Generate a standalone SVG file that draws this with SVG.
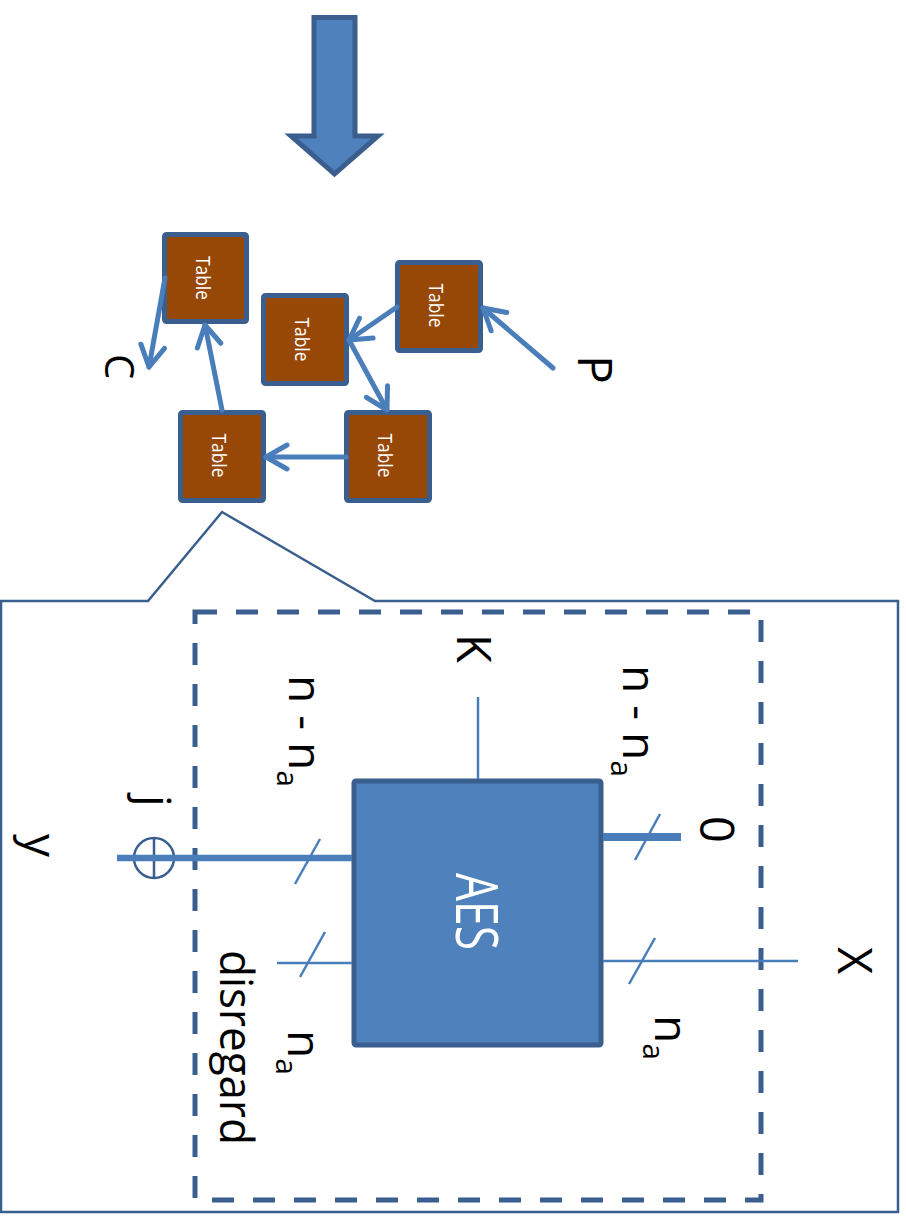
<svg xmlns="http://www.w3.org/2000/svg" width="906" height="1222" viewBox="0 0 906 1222">
<style>
.lbl{font-family:"Open Sans","Liberation Sans",sans-serif;fill:#000}
.tbl rect{fill:#974706;stroke:#3A5F8F;stroke-width:5}
.tbl text{font-family:"Open Sans","Liberation Sans",sans-serif;font-size:20px;fill:#fff;text-anchor:middle}
.arr{stroke:#4A7EBB;stroke-width:5;fill:none;stroke-linecap:round;marker-end:url(#open)}
.thin{stroke:#4A7EBB;stroke-width:2.5;fill:none}
</style>
<defs>
<marker id="open" markerUnits="userSpaceOnUse" markerWidth="40" markerHeight="40" viewBox="-25 -20 30 40" refX="0" refY="0" orient="auto">
<path d="M-21,-12 L0,0 L-21,12" fill="none" stroke="#4A7EBB" stroke-width="5" stroke-linecap="round" stroke-linejoin="round"/>
</marker>
</defs>
<rect width="906" height="1222" fill="#fff"/>

<g id="big-arrow">
<polygon points="314,17.5 355,17.5 355,136 378,136 334.5,174 291,136 314,136" fill="#4F81BD" stroke="#3A5F8F" stroke-width="5"/>
</g>

<g id="table-a" class="tbl"><rect x="164.5" y="234.5" width="82" height="87" rx="2"/><text transform="translate(196,278) rotate(90)" textLength="44" lengthAdjust="spacingAndGlyphs">Table</text></g>
<g id="table-b" class="tbl"><rect x="263.5" y="295.5" width="83" height="88" rx="2"/><text transform="translate(295,339.5) rotate(90)" textLength="44" lengthAdjust="spacingAndGlyphs">Table</text></g>
<g id="table-c" class="tbl"><rect x="397.5" y="262.5" width="83" height="88" rx="2"/><text transform="translate(429,305.5) rotate(90)" textLength="44" lengthAdjust="spacingAndGlyphs">Table</text></g>
<g id="table-d" class="tbl"><rect x="180.5" y="412.5" width="83" height="88" rx="2"/><text transform="translate(212,455.5) rotate(90)" textLength="44" lengthAdjust="spacingAndGlyphs">Table</text></g>
<g id="table-e" class="tbl"><rect x="346.5" y="412.5" width="83" height="88" rx="2"/><text transform="translate(378,455.5) rotate(90)" textLength="44" lengthAdjust="spacingAndGlyphs">Table</text></g>

<g id="callout">
<path d="M1,601 L148,601 L222,512 L375,601 L898,601 L898,1212 L1,1212 Z" fill="none" stroke="#3A5F8F" stroke-width="2.5" stroke-linejoin="miter"/>
</g>
<g id="dashed-box">
<path d="M195,612 L761,612 L761,1200 L195,1200 Z" fill="none" stroke="#3A5F8F" stroke-width="5" stroke-dasharray="22 19"/>
</g>

<g id="aes">
<rect x="354" y="781" width="247" height="264" rx="2" fill="#4F81BD" stroke="#3A5F8F" stroke-width="5"/>
<text transform="translate(456,873) rotate(90)" font-family="Open Sans, Liberation Sans, sans-serif" font-size="58" fill="#fff" textLength="77" lengthAdjust="spacingAndGlyphs">AES</text>
</g>

<g id="xor">
<circle cx="154" cy="858" r="20" fill="none" stroke="#3A5F8F" stroke-width="2.5"/>
<line x1="154" y1="838" x2="154" y2="878" stroke="#3A5F8F" stroke-width="2.5"/>
</g>

<g id="connectors">
<line class="arr" x1="553" y1="368" x2="483" y2="308"/>
<line class="arr" x1="397" y1="307" x2="349" y2="340"/>
<line class="arr" x1="349" y1="340" x2="387" y2="410"/>
<line class="arr" x1="346" y1="457" x2="266" y2="457"/>
<line class="arr" x1="222" y1="410" x2="205" y2="325"/>
<line class="arr" x1="165" y1="278" x2="149" y2="367"/>

<line class="thin" x1="478" y1="697" x2="478" y2="779"/>
<line x1="117" y1="858" x2="352" y2="858" stroke="#4A7EBB" stroke-width="6.5"/>
<line class="thin" x1="295" y1="884" x2="320" y2="839"/>
<line x1="603" y1="837" x2="681" y2="837" stroke="#4A7EBB" stroke-width="8"/>
<line class="thin" x1="635" y1="860" x2="660" y2="814"/>
<line class="thin" x1="603" y1="961" x2="798" y2="961"/>
<line class="thin" x1="629" y1="984" x2="655" y2="938"/>
<line class="thin" x1="277" y1="963" x2="352" y2="963"/>
<line class="thin" x1="300" y1="977" x2="325" y2="932"/>
</g>

<g id="labels" class="lbl">
<text transform="translate(578,355) rotate(90)" font-size="48">P</text>
<text transform="translate(105,354) rotate(90)" font-size="40">C</text>
<text transform="translate(457,634) rotate(90)" font-size="47">K</text>
<text transform="translate(289,675) rotate(90)" font-size="46">n - n<tspan font-size="30" dy="12">a</tspan></text>
<text transform="translate(623,665) rotate(90)" font-size="46">n - n<tspan font-size="30" dy="12">a</tspan></text>
<text transform="translate(138,795) rotate(90)" font-size="46">j</text>
<text transform="translate(24,834) rotate(90)" font-size="46">y</text>
<text transform="translate(700,816) rotate(90)" font-size="47">0</text>
<text transform="translate(838,947) rotate(90)" font-size="47">X</text>
<text transform="translate(655,1015) rotate(90)" font-size="46">n<tspan font-size="30" dy="12">a</tspan></text>
<text transform="translate(288,1030) rotate(90)" font-size="46">n<tspan font-size="30" dy="12">a</tspan></text>
<text transform="translate(220,950) rotate(90)" font-size="45" textLength="195" lengthAdjust="spacingAndGlyphs">disregard</text>
</g>
</svg>
